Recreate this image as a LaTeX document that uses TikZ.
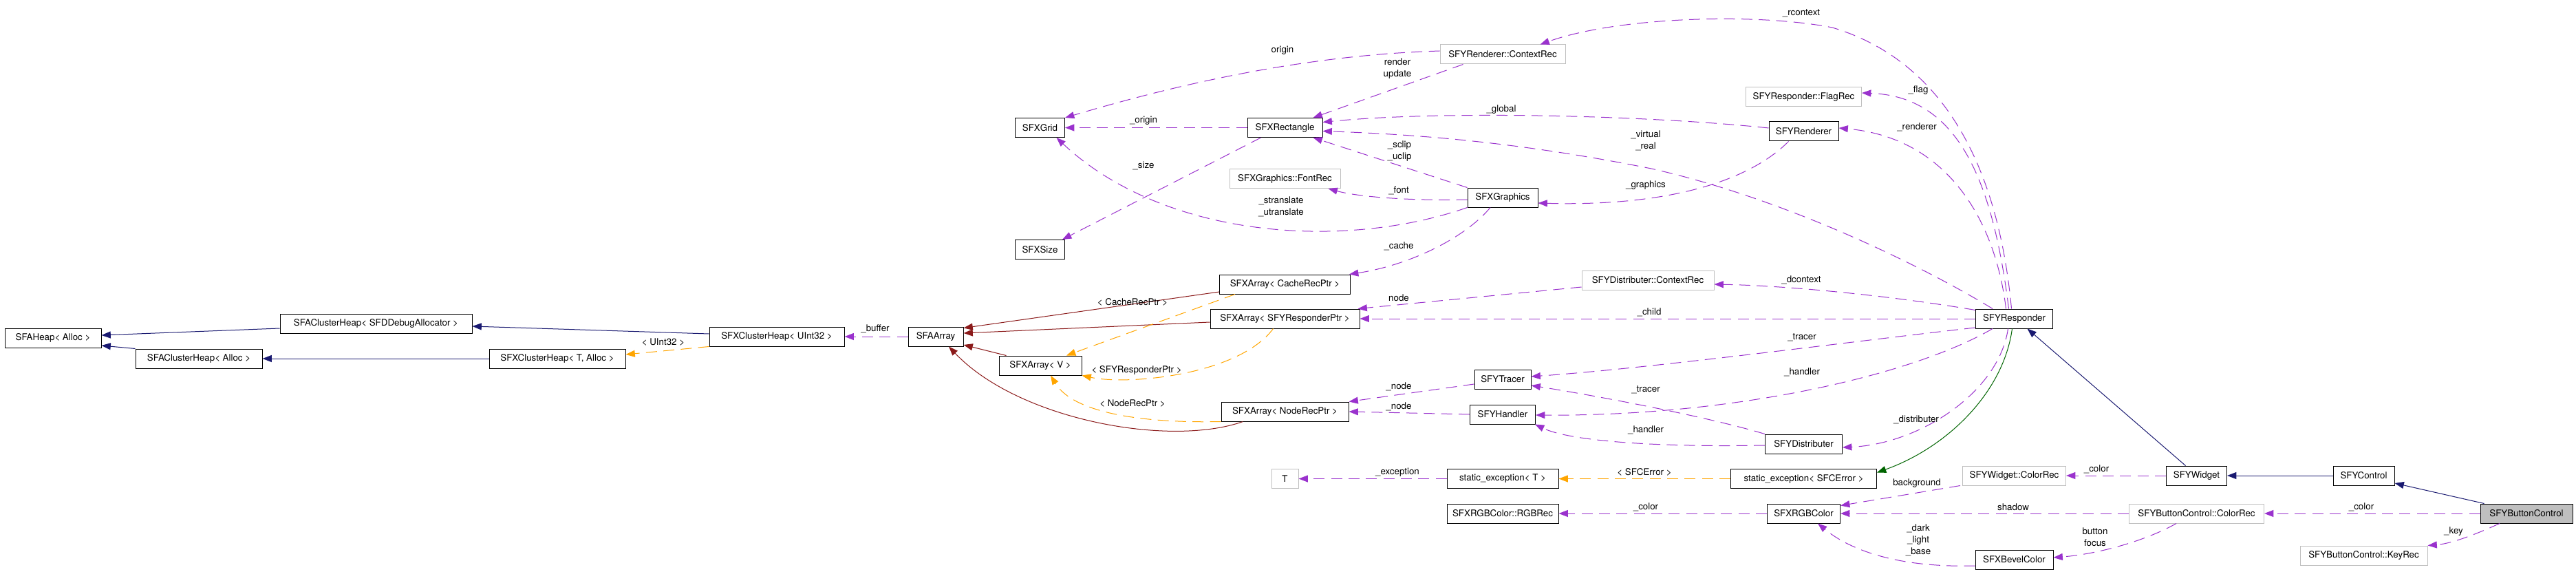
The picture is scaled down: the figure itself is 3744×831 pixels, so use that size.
\documentclass[tikz,border=0pt]{standalone}
\usepackage{fontspec}
\setmainfont{TeX Gyre Heros}
\usetikzlibrary{calc,arrows.meta}
\definecolor{pubcol}{HTML}{191970}
\definecolor{protcol}{HTML}{006400}
\definecolor{privcol}{HTML}{8B1A1A}
\definecolor{tmplcol}{HTML}{FFA500}
\definecolor{usecol}{HTML}{9A32CD}
\definecolor{extcol}{HTML}{BFBFBF}
\tikzset{
  cls/.style={draw=black, line width=0.75pt, minimum height=21pt, inner xsep=0pt, inner ysep=0pt, font=\fontsize{10}{12}\selectfont},
  ext/.style={cls, draw=extcol},
  cur/.style={cls, fill=extcol},
  lbl/.style={align=center, inner sep=0pt, font=\fontsize{10}{12.75}\selectfont},
  rel/.style={line width=0.75pt, -{Triangle[length=10pt,width=7.5pt]}},
  pub/.style={rel, draw=pubcol},
  prot/.style={rel, draw=protcol},
  priv/.style={rel, draw=privcol},
  tmpl/.style={rel, draw=tmplcol, dash pattern=on 12pt off 7pt},
  use/.style={rel, draw=usecol, dash pattern=on 12pt off 7pt}
}
\newcommand{\classbox}[5][cls]{\node[#1, minimum width=#4*0.75pt] (#2) at (#3) {#5};}

\begin{document}
\begin{tikzpicture}[x=0.75pt, y=-0.75pt]
\useasboundingbox (0,0) rectangle (3744,831);

% heaps
\classbox{heap}{77,491}{140}{SFAHeap< Alloc >}
\classbox{cdebug}{546.5,470}{279}{SFAClusterHeap< SFDDebugAllocator >}
\classbox{calloc}{289,521}{184}{SFAClusterHeap< Alloc >}
\classbox{xcta}{810,521}{198}{SFXClusterHeap< T, Alloc >}
\classbox{xcu}{1129,489}{196}{SFXClusterHeap< UInt32 >}

% arrays
\classbox{aarray}{1360,489}{80}{SFAArray}
\classbox{av}{1512,531}{120}{SFXArray< V >}
\classbox{acache}{1867.5,413}{190}{SFXArray< CacheRecPtr >}
\classbox{aresp}{1867.5,463}{217}{SFXArray< SFYResponderPtr >}
\classbox{anode}{1867.5,598}{185}{SFXArray< NodeRecPtr >}

% geometry and graphics
\classbox{grid}{1511.5,185.5}{72}{SFXGrid}
\classbox{gsize}{1511.5,362.5}{72}{SFXSize}
\classbox{rect}{1867.5,185.5}{109}{SFXRectangle}
\classbox[ext]{fontrec}{1867.5,259.5}{161}{SFXGraphics::FontRec}
\classbox[ext]{tt}{1867.5,695.5}{39}{T}
\classbox[ext]{rctx}{2184,79}{182}{SFYRenderer::ContextRec}
\classbox{gfx}{2184,287}{102}{SFXGraphics}
\classbox{tracer}{2184,551}{82}{SFYTracer}
\classbox{handler}{2184,602}{95}{SFYHandler}
\classbox{sexct}{2184,695.5}{162}{static\_exception< T >}
\classbox{rgbrec}{2184,746}{162}{SFXRGBColor::RGBRec}
\classbox[ext]{dctx}{2395,407}{192}{SFYDistributer::ContextRec}

% responder side
\classbox[ext]{flagrec}{2621.5,141}{168}{SFYResponder::FlagRec}
\classbox{renderer}{2621.5,191}{101}{SFYRenderer}
\classbox{distrib}{2621.5,645}{112}{SFYDistributer}
\classbox{sexcerr}{2621.5,695.5}{212}{static\_exception< SFCError >}
\classbox{rgb}{2621.5,746}{106}{SFXRGBColor}
\classbox{resp}{2927.5,463}{112}{SFYResponder}
\classbox[ext]{wcolor}{2927.5,691}{150}{SFYWidget::ColorRec}
\classbox{bevel}{2927.5,813}{113}{SFXBevelColor}
\classbox{widget}{3192.5,691}{88}{SFYWidget}
\classbox[ext]{bcolor}{3192.5,746}{196}{SFYButtonControl::ColorRec}
\classbox{control}{3435.5,691}{89}{SFYControl}
\classbox[ext]{keyrec}{3435.5,807}{185}{SFYButtonControl::KeyRec}
\classbox[cur]{button}{3672,746}{134}{SFYButtonControl}

% inheritance
\draw[pub] ($(xcu.west)+(0,-4)$) -- ($(cdebug.east)+(0,4)$);
\draw[pub] ($(cdebug.west)+(0,7)$) -- ($(heap.east)+(0,-4)$);
\draw[pub] (calloc.north west) -- ($(heap.east)+(0,11)$);
\draw[pub] (xcta) -- (calloc);
\draw[pub] (control) -- (widget);
\draw[pub] ($(widget.north)+(-16,0)$) -- ($(resp.south)+(19,0)$);
\draw[pub] ($(button.north west)+(6,0)$) -- ($(control.east)+(0,11)$);
\draw[prot] ($(resp.south)+(-3,0)$) .. controls (2912,570) and (2830,650) .. ($(sexcerr.east)+(0,-9)$);
\draw[priv] ($(acache.west)+(0,11)$) -- ($(aarray.north east)+(0,2)$);
\draw[priv] ($(aresp.west)+(0,5)$) -- ($(aarray.east)+(0,-5)$);
\draw[priv] ($(av.north west)+(11,0)$) -- ($(aarray.east)+(0,12)$);
\draw[priv] ($(anode.south west)+(32,0)$) .. controls (1700,650) and (1480,610) .. ($(aarray.south)+(19,0)$);

% template instances
\draw[tmpl] (xcu.south west) -- ($(xcta.east)+(0,-6)$);
\draw[tmpl] ($(acache.south west)+(23,0)$) -- ($(av.north)+(38,0)$);
\draw[tmpl] ($(aresp.south west)+(92,0)$) .. controls (1800,545) and (1640,560) .. (av.south east);
\draw[tmpl] (anode.south west) .. controls (1660,615) and (1560,600) .. ($(av.south)+(15,0)$);
\draw[tmpl] (sexcerr) -- (sexct);

% members
\draw[use] (aarray) -- (xcu);
\draw[use] ($(rctx.west)+(0,-5)$) .. controls (1900,80) and (1720,120) .. (grid.north east);
\draw[use] (rect) -- (grid);
\draw[use] ($(rect.south west)+(20,0)$) -- ($(gsize.north east)+(-4,0)$);
\draw[use] (gfx.south west) .. controls (1950,365) and (1690,345) .. ($(grid.south)+(24,0)$);
\draw[use] ($(rctx.south west)+(34,0)$) -- ($(rect.north east)+(-14,0)$);
\draw[use] ($(renderer.west)+(0,-5)$) .. controls (2400,168) and (2100,160) .. ($(rect.east)+(0,-8)$);
\draw[use] ($(resp.north west)+(25,0)$) .. controls (2800,390) and (2600,290) .. (2400,245) .. controls (2200,205) and (2050,195) .. ($(rect.east)+(0,5)$);
\draw[use] (gfx.north west) -- ($(rect.south east)+(-14,0)$);
\draw[use] ($(gfx.west)+(0,3)$) .. controls (2040,292) and (1970,285) .. ($(fontrec.south east)+(-18,0)$);
\draw[use] ($(gfx.south)+(-18,0)$) .. controls (2130,345) and (2050,385) .. ($(acache.north east)+(-2,0)$);
\draw[use] ($(renderer.south)+(-22,0)$) .. controls (2540,265) and (2420,300) .. ($(gfx.east)+(0,8)$);
\draw[use] ($(resp.north)+(-4,0)$) .. controls (2905,250) and (2830,90) .. (2663,40) .. controls (2550,18) and (2350,25) .. ($(rctx.north east)+(-37,0)$);
\draw[use] ($(resp.north)+(-8,0)$) .. controls (2895,250) and (2840,140) .. ($(flagrec.east)+(0,-6)$);
\draw[use] ($(resp.north)+(-12,0)$) .. controls (2900,320) and (2830,200) .. ($(renderer.east)+(0,-5)$);
\draw[use] ($(resp.north west)+(0,2)$) .. controls (2750,430) and (2600,415) .. ($(dctx.east)+(0,6)$);
\draw[use] (resp) -- (aresp);
\draw[use] ($(dctx.west)+(0,10)$) -- ($(aresp.north east)+(-3,0)$);
\draw[use] ($(resp.west)+(0,13)$) .. controls (2700,495) and (2400,535) .. ($(tracer.east)+(0,-4)$);
\draw[use] (distrib.north west) .. controls (2480,605) and (2320,575) .. ($(tracer.east)+(0,9)$);
\draw[use] ($(resp.south west)+(25,0)$) .. controls (2780,545) and (2520,605) .. ($(handler.east)+(0,1)$);
\draw[use] ($(distrib.west)+(0,2)$) .. controls (2400,650) and (2280,640) .. ($(handler.south east)+(-1,0)$);
\draw[use] ($(resp.south)+(-9,0)$) .. controls (2905,570) and (2790,645) .. ($(distrib.east)+(0,5)$);
\draw[use] ($(tracer.west)+(0,7)$) -- (anode.north east);
\draw[use] (handler.west) -- (anode.east);
\draw[use] (sexct) -- (tt);
\draw[use] (rgb) -- (rgbrec);
\draw[use] (widget) -- (wcolor);
\draw[use] ($(wcolor.south west)+(-3,0)$) -- ($(rgb.north east)+(0,3)$);
\draw[use] (bcolor) -- (rgb);
\draw[use] ($(bevel.west)+(0,9)$) .. controls (2760,825) and (2690,800) .. ($(rgb.south east)+(-33,0)$);
\draw[use] ($(bcolor.south west)+(69,0)$) .. controls (3120,785) and (3050,805) .. ($(bevel.east)+(0,-3)$);
\draw[use] (button) -- (bcolor);
\draw[use] ($(button.south)+(-39,0)$) .. controls (3590,780) and (3560,790) .. (keyrec.north east);

% labels
\node[lbl] (l-uint) at (964,497) {< UInt32 >};
\node[lbl] (l-buffer) at (1272,478) {\_buffer};
\node[lbl] (l-origin) at (1864,73) {origin};
\node[lbl] (l-origin2) at (1662,175) {\_origin};
\node[lbl] (l-size) at (1662,241) {\_size};
\node[lbl] (l-trans) at (1862,300) {\_stranslate\\\_utranslate};
\node[lbl] (l-render) at (2031,99.5) {render\\update};
\node[lbl] (l-global) at (2182,159) {\_global};
\node[lbl] (l-virtual) at (2392,204.5) {\_virtual\\\_real};
\node[lbl] (l-clip) at (2034,219.5) {\_sclip\\\_uclip};
\node[lbl] (l-font) at (2033,277) {\_font};
\node[lbl] (l-graphics) at (2392,269) {\_graphics};
\node[lbl] (l-cache) at (2033,358) {\_cache};
\node[lbl] (l-cacheptr) at (1646,439) {< CacheRecPtr >};
\node[lbl] (l-respptr) at (1652,538) {< SFYResponderPtr >};
\node[lbl] (l-nodeptr) at (1646,586) {< NodeRecPtr >};
\node[lbl] (l-node) at (2033,433) {node};
\node[lbl] (l-child) at (2397,454) {\_child};
\node[lbl] (l-node2) at (2033,562) {\_node};
\node[lbl] (l-node3) at (2033,591) {\_node};
\node[lbl] (l-tracer) at (2392,566) {\_tracer};
\node[lbl] (l-handler) at (2392,625) {\_handler};
\node[lbl] (l-exception) at (2031,686) {\_exception};
\node[lbl] (l-sfcerror) at (2390,686) {< SFCError >};
\node[lbl] (l-color) at (2392,737) {\_color};
\node[lbl] (l-rcontext) at (2618,19) {\_rcontext};
\node[lbl] (l-flag) at (2788,131) {\_flag};
\node[lbl] (l-renderer) at (2786,185) {\_renderer};
\node[lbl] (l-dcontext) at (2618,407) {\_dcontext};
\node[lbl] (l-tracer2) at (2619,490) {\_tracer};
\node[lbl] (l-handler2) at (2619,541) {\_handler};
\node[lbl] (l-distrib) at (2785,610) {\_distributer};
\node[lbl] (l-color2) at (3047,682) {\_color};
\node[lbl] (l-background) at (2786,702) {background};
\node[lbl] (l-shadow) at (2926,737) {shadow};
\node[lbl] (l-bevel) at (2788,785) {\_dark\\\_light\\\_base};
\node[lbl] (l-button) at (3045,780.5) {button\\focus};
\node[lbl] (l-color3) at (3432,737) {\_color};
\node[lbl] (l-key) at (3566,772) {\_key};
\end{tikzpicture}
\end{document}
